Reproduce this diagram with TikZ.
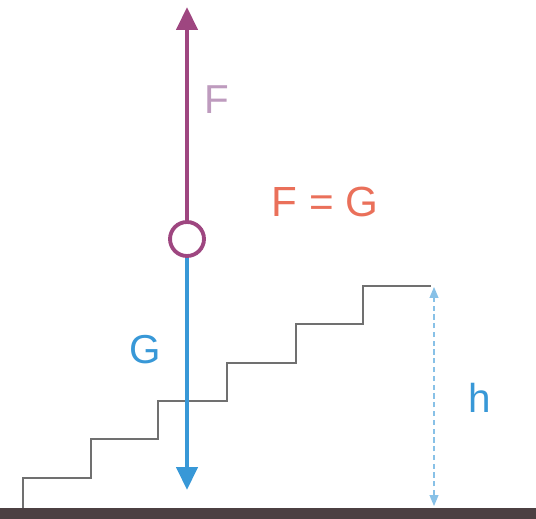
\documentclass[tikz,border=0pt]{standalone}
\usepackage{fontspec}
\setmainfont{Liberation Sans}
\usetikzlibrary{arrows.meta, positioning}
\definecolor{forcepurple}{RGB}{158,70,128}
\definecolor{flabel}{RGB}{190,155,190}
\definecolor{eqred}{RGB}{234,112,90}
\definecolor{gblue}{RGB}{56,152,215}
\definecolor{stairgray}{RGB}{112,112,112}
\definecolor{groundbrown}{RGB}{76,64,66}

\begin{document}
\begin{tikzpicture}[
    x=0.02cm, y=-0.02cm,
    force/.style={line width=2.4pt, -{Triangle[width=0.42cm, length=0.46cm]}},
    mass/.style={circle, draw=forcepurple, line width=2.2pt, fill=white, minimum size=0.68cm, inner sep=0},
    lbl/.style={font=\fontsize{23}{27}\selectfont, inner sep=0},
    dimline/.style={gblue!60, densely dashed, line width=0.6pt,
      {Triangle[width=0.18cm, length=0.22cm]}-{Triangle[width=0.18cm, length=0.22cm]}}
]
  \useasboundingbox (0,0) rectangle (536,519);

  % Ground
  \fill[groundbrown] (0,508) rectangle (536,519);

  % Stairs
  \draw[stairgray, line width=0.9pt] (23,508) -- (23,478) -| (91,439) -| (158,401)
    -| (227,363) -| (296,324) -| (363,286) -- (431,286);

  % Height
  \coordinate (htop) at (434,287);
  \coordinate (hbot) at (434,506);
  \draw[dimline] (hbot) -- (htop);
  \node[lbl, text=gblue] (hlab) at (480,398) {h};

  % Forces
  \node[mass] (body) at (187,239) {};
  \coordinate (ftip) at (187,7);
  \coordinate (gtip) at (187,490);
  \draw[force, forcepurple] (body.north) -- (ftip);
  \draw[force, gblue] (body.south) -- (gtip);

  % Labels
  \node[lbl, text=flabel] (flab) at (217,100) {F};
  \node[lbl, text=gblue] (glab) at (145,350) {G};
  \node[lbl, text=eqred, font=\fontsize{24}{28}\selectfont] (eq) at (325,202) {F = G};
\end{tikzpicture}
\end{document}
